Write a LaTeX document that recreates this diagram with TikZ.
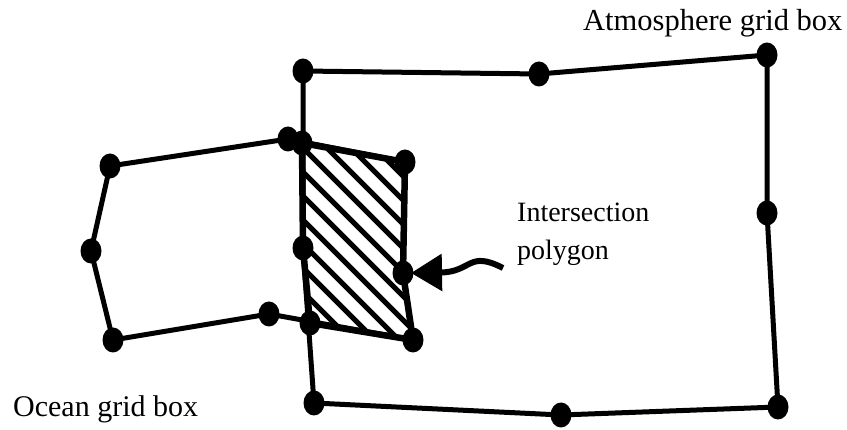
\documentclass[tikz,border=0pt]{standalone}
\usepackage{fontspec}
\setmainfont{Liberation Serif}
\usetikzlibrary{arrows.meta}
\begin{document}
\begin{tikzpicture}[x=1pt,y=-1pt,
  edge/.style={line width=5pt, line join=round},
  polyedge/.style={line width=6.5pt, line join=round},
  hatchline/.style={line width=5pt},
  dotmark/.style={fill=black},
  lbl/.style={inner sep=0pt, anchor=base west},
  pointer/.style={line width=6pt, -{Triangle[length=31pt,width=36pt]}}]
\useasboundingbox (0,0) rectangle (847,430);
% atmosphere vertices
\coordinate (a1) at (303,71);
\coordinate (a2) at (539,74);
\coordinate (a3) at (767,55);
\coordinate (a4) at (767,213);
\coordinate (a5) at (778,407);
\coordinate (a6) at (561,415);
\coordinate (a7) at (314,403);
\coordinate (a8) at (303,248);
% ocean vertices
\coordinate (o1) at (110,166);
\coordinate (o2) at (288,139);
\coordinate (o3) at (405,162);
\coordinate (o4) at (403,273);
\coordinate (o5) at (413,340);
\coordinate (o6) at (269,314);
\coordinate (o7) at (113,340);
\coordinate (o8) at (91,251);
% intersection points
\coordinate (i1) at (302,143);
\coordinate (i2) at (310,323);
% hatching
\begin{scope}
\clip (i1) -- (o3) -- (o4) -- (o5) -- (i2) -- (a8) -- cycle;
\fill[white] (250,100) rectangle (450,380);
\foreach \k in {-10,...,7}
  \draw[hatchline] ({255+24*\k},100) -- ({555+24*\k},400);
\end{scope}
% grid boxes
\draw[edge] (a1) -- (a2) -- (a3) -- (a4) -- (a5) -- (a6) -- (a7) -- (a8) -- cycle;
\draw[edge] (o1) -- (o2) -- (o3) -- (o4) -- (o5) -- (o6) -- (o7) -- (o8) -- cycle;
% intersection polygon outline
\draw[polyedge] (i1) -- (o3) -- (o4) -- (o5) -- (i2) -- (a8) -- cycle;
% vertex dots
\foreach \p in {a1,a2,a3,a4,a5,a6,a7,a8,o1,o2,o3,o4,o5,o6,o7,o8,i1,i2}
  \fill[dotmark] (\p) ellipse [x radius=10.5pt, y radius=12.5pt];
% labels
\node[lbl, font=\fontsize{30.5}{36}\selectfont] (atm) at (583,31) {Atmosphere grid box};
\node[lbl, font=\fontsize{30}{36}\selectfont] (ocn) at (13,417) {Ocean grid box};
\node[lbl, font=\fontsize{28}{38}\selectfont] (int1) at (517,222) {Intersection};
\node[lbl, font=\fontsize{28}{38}\selectfont] (int2) at (517,260) {polygon};
% pointer
\coordinate (tip) at (411,273);
\draw[pointer] ([xshift=-14pt,yshift=-8pt]int2.base west) .. controls (468,250) and (472,272) .. (tip);
\end{tikzpicture}
\end{document}
